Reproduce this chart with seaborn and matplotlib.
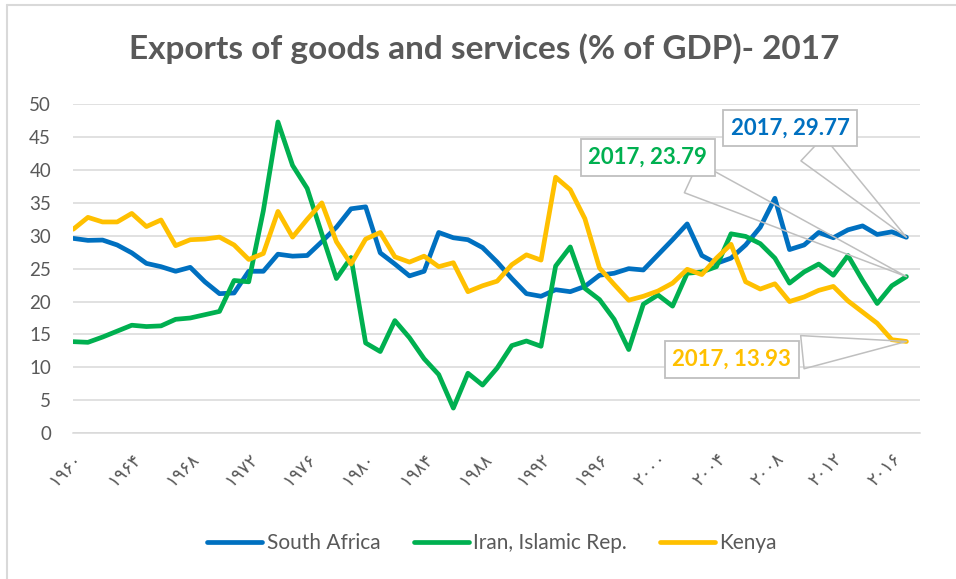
import seaborn as sns
import matplotlib.pyplot as plt
import pandas as pd
from matplotlib.lines import Line2D

years = list(range(1960, 2018))

south_africa = [29.6, 29.3, 29.35, 28.6, 27.4, 25.8, 25.3, 24.6, 25.2, 23.0,
                21.2, 21.3, 24.6, 24.6, 27.2, 26.9, 27.0, 29.1, 31.3, 34.1,
                34.4, 27.4, 25.7, 23.9, 24.6, 30.5, 29.7, 29.4, 28.2, 26.0,
                23.5, 21.2, 20.8, 21.8, 21.5, 22.3, 24.0, 24.3, 25.0, 24.8,
                27.1, 29.4, 31.8, 27.0, 25.8, 26.6, 28.6, 31.3, 35.7, 27.9,
                28.6, 30.5, 29.7, 30.9, 31.5, 30.2, 30.6, 29.77]

iran = [13.9, 13.8, 14.6, 15.5, 16.4, 16.2, 16.3, 17.3, 17.5, 18.0,
        18.5, 23.2, 23.0, 33.8, 47.3, 40.7, 37.2, 30.3, 23.5, 26.7,
        13.7, 12.4, 17.1, 14.5, 11.3, 8.9, 3.8, 9.1, 7.3, 9.9,
        13.3, 14.0, 13.2, 25.4, 28.3, 22.0, 20.3, 17.3, 12.7, 19.6,
        21.0, 19.3, 24.3, 24.5, 25.3, 30.3, 29.9, 28.8, 26.6, 22.8,
        24.5, 25.7, 24.0, 27.0, 23.2, 19.7, 22.4, 23.79]

kenya = [31.0, 32.8, 32.1, 32.1, 33.4, 31.4, 32.4, 28.5, 29.4, 29.5,
         29.8, 28.6, 26.4, 27.3, 33.7, 29.8, 32.5, 35.0, 29.1, 25.7,
         29.5, 30.5, 26.8, 26.0, 26.9, 25.3, 25.9, 21.5, 22.4, 23.1,
         25.6, 27.1, 26.3, 38.9, 37.0, 32.6, 25.1, 22.6, 20.2, 20.8,
         21.6, 22.8, 24.9, 24.1, 26.6, 28.7, 23.0, 21.9, 22.7, 20.0,
         20.7, 21.7, 22.3, 20.1, 18.4, 16.7, 14.2, 13.93]

countries = ["South Africa", "Iran, Islamic Rep.", "Kenya"]
colors = ["#0070C0", "#00B050", "#FFC000"]

tick_years = [1960, 1964, 1968, 1972, 1976, 1980, 1984, 1988,
              1992, 1996, 2000, 2004, 2008, 2012, 2016]
tick_labels = ["۱۹۶۰", "۱۹۶۴", "۱۹۶۸", "۱۹۷۲", "۱۹۷۶", "۱۹۸۰", "۱۹۸۴", "۱۹۸۸",
               "۱۹۹۲", "۱۹۹۶", "۲۰۰۰", "۲۰۰۴", "۲۰۰۸", "۲۰۱۲", "۲۰۱۶"]

# label box centres (year, value)
label_pos = [(2009.05, 46.4), (1999.3, 41.9), (2005.05, 11.2)]

df = pd.DataFrame({
    "year": years * 3,
    "value": south_africa + iran + kenya,
    "country": [c for c in countries for _ in years],
})

sns.set_style("white")
plt.rcParams["font.family"] = ["Lato", "DejaVu Sans"]
gray = "#595959"

fig = plt.figure(figsize=(9.56, 5.79), dpi=100)
ax = fig.add_axes([0.0767, 0.252, 0.8855, 0.568])

sns.lineplot(data=df, x="year", y="value", hue="country", hue_order=countries,
             palette=colors, linewidth=3.4, ax=ax, legend=True)

ax.set_xlim(1960, 2017.92)
ax.set_ylim(0, 50)
ax.set_yticks(range(0, 51, 5))
ax.tick_params(axis="y", length=0, labelsize=13.5, labelcolor=gray, pad=16)
ax.yaxis.grid(True, color="#D9D9D9", linewidth=1.1)
ax.set_axisbelow(True)
for s in ["top", "right", "left"]:
    ax.spines[s].set_visible(False)
ax.spines["bottom"].set_color("#D9D9D9")
ax.spines["bottom"].set_linewidth(1.1)

ax.set_xticks(tick_years)
ax.set_xticklabels(tick_labels, rotation=45, ha="right", va="top",
                   rotation_mode="anchor", family="DejaVu Sans")
ax.set_xticks(years + [2017.92], minor=True)
ax.tick_params(axis="x", which="both", length=5, color="#D9D9D9",
               labelsize=13, labelcolor=gray, pad=7)
ax.set_xlabel("")
ax.set_ylabel("")

ax.get_legend().remove()
handles, labels = ax.get_legend_handles_labels()
fig.legend(handles, labels, loc="center", bbox_to_anchor=(492 / 956, 1 - 543 / 579),
           ncol=3, frameon=False, fontsize=15, handlelength=2.64,
           handletextpad=0.2, columnspacing=1.6, labelcolor=gray)

for series, color, pos in zip([south_africa, iran, kenya], colors, label_pos):
    ax.annotate("{}, {:.2f}".format(years[-1], series[-1]),
                xy=(years[-1], series[-1]), xytext=pos, textcoords="data",
                ha="center", va="center", color=color, fontsize=16,
                fontweight="bold", zorder=5,
                bbox=dict(boxstyle="square,pad=0.35", fc="white", ec="#BFBFBF", lw=1.3),
                arrowprops=dict(arrowstyle="wedge,tail_width=1.5,shrink_factor=0.5",
                                fc="none", ec="#BFBFBF", lw=1.1, shrinkB=0))

fig.suptitle("Exports of goods and services (% of GDP)- 2017", x=484 / 956,
             y=1 - 49 / 579, va="center", fontsize=24, fontweight="bold", color=gray)

# outer chart frame (left and top edges visible in the source)
fig.add_artist(Line2D([7 / 956, 7 / 956], [0, 1 - 5 / 579], transform=fig.transFigure,
                      color="#D9D9D9", lw=1.5))
fig.add_artist(Line2D([7 / 956, 1], [1 - 5 / 579, 1 - 5 / 579], transform=fig.transFigure,
                      color="#D9D9D9", lw=1.5))

fig.savefig("out.png", dpi=100)
